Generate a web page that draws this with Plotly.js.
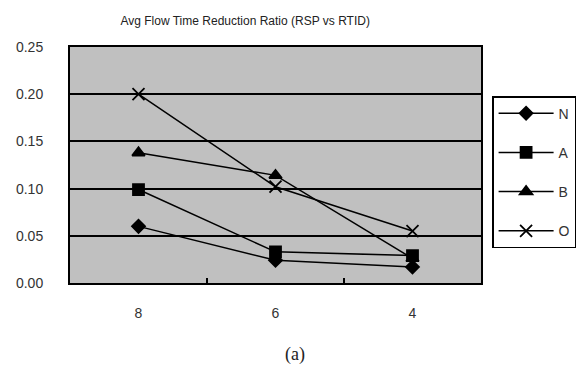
<!DOCTYPE html>
<html>
<head>
<meta charset="utf-8">
<script src="https://cdn.plot.ly/plotly-3.0.1.min.js"></script>
<style>html,body{margin:0;padding:0;background:#fff;}#chart{width:588px;height:372px;}</style>
</head>
<body>
<div id="chart"></div>
<script>
const categories = ['8', '6', '4'];
const seriesNames = ['N', 'A', 'B', 'O'];
const valuesN = [0.060, 0.024, 0.017];
const valuesA = [0.099, 0.033, 0.029];
const valuesB = [0.138, 0.114, 0.026];
const valuesO = [0.200, 0.102, 0.055];
const yTickVals = [0, 0.05, 0.10, 0.15, 0.20, 0.25];
const yTickText = ['0.00', '0.05', '0.10', '0.15', '0.20', '0.25'];

const allValues = [valuesN, valuesA, valuesB, valuesO];
const markers = [
  {symbol: 'diamond', size: 10},
  {symbol: 'square', size: 11},
  {symbol: 'triangle-up', size: 11},
  {symbol: 'x-thin-open', size: 12}
];

const traces = seriesNames.map((name, i) => ({
  x: categories,
  y: allValues[i],
  name: name,
  legendgroup: name,
  type: 'scatter',
  mode: 'lines+markers',
  line: {color: '#000', width: 1.5},
  marker: {symbol: markers[i].symbol, size: markers[i].size, color: '#000',
           line: {color: '#000', width: 1.8}},
  cliponaxis: false
}));

const font = 'Liberation Sans, Arial, sans-serif';
const layout = {
  width: 588, height: 372,
  margin: {l: 70, r: 103, t: 47, b: 89},
  paper_bgcolor: '#fff',
  plot_bgcolor: '#c0c0c0',
  title: {text: 'Avg Flow Time Reduction Ratio (RSP vs RTID)',
          font: {family: font, size: 12, color: '#222'},
          x: 0.417, xref: 'container', xanchor: 'center', y: 0.945, yanchor: 'middle'},
  xaxis: {type: 'category', categoryorder: 'array', categoryarray: categories,
          range: [-0.5, 2.5],
          showgrid: false, zeroline: false,
          showline: true, linecolor: '#000', linewidth: 2, mirror: true,
          ticks: 'inside', tickson: 'boundaries', ticklen: 5, tickcolor: '#000', tickwidth: 1.5,
          tickfont: {family: font, size: 14, color: '#333'}, ticklabelstandoff: 16},
  yaxis: {range: [0, 0.25], tickvals: yTickVals, ticktext: yTickText,
          showgrid: true, gridcolor: '#000', gridwidth: 2, zeroline: false,
          showline: true, linecolor: '#000', linewidth: 2, mirror: true,
          ticks: '', tickfont: {family: font, size: 14, color: '#333'}, ticklabelstandoff: 22},
  showlegend: true,
  legend: {x: 1.027, xanchor: 'left', y: 0.792, yanchor: 'top',
           bgcolor: '#fff', bordercolor: '#000', borderwidth: 1.5,
           font: {family: font, size: 14, color: '#333'},
           traceorder: 'grouped', tracegroupgap: 18, itemwidth: 55},
  annotations: [{text: '(a)', xref: 'paper', yref: 'paper', x: 0.547, y: -0.305,
                 xanchor: 'center', yanchor: 'middle', showarrow: false,
                 font: {family: 'Liberation Serif, Times New Roman, serif', size: 18, color: '#222'}}]
};

Plotly.newPlot('chart', traces, layout, {displayModeBar: false, staticPlot: true});
</script>
</body>
</html>
